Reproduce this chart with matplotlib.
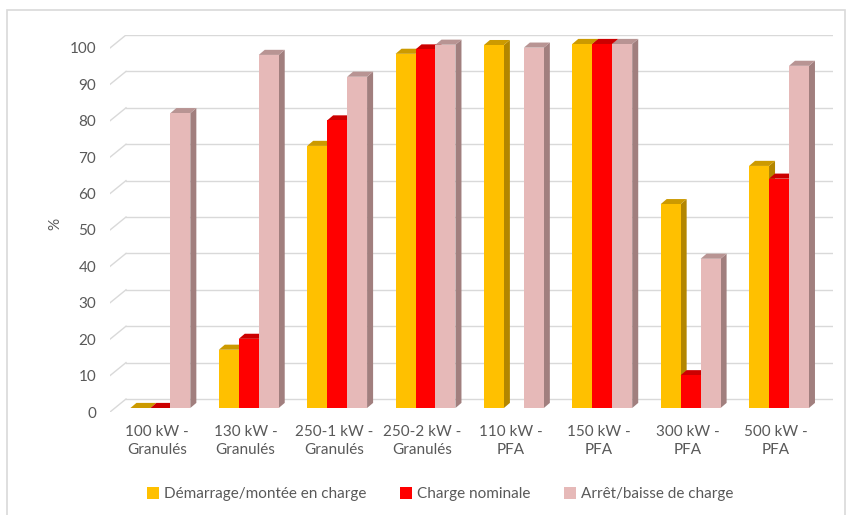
import matplotlib as mpl
mpl.use('Agg')
import matplotlib.pyplot as plt
from matplotlib.patches import Polygon, Rectangle, Patch
import numpy as np

plt.rcParams['font.family'] = ['Lato', 'DejaVu Sans']

categories = ['100 kW -\nGranulés', '130 kW -\nGranulés', '250-1 kW -\nGranulés',
              '250-2 kW -\nGranulés', '110 kW -\nPFA', '150 kW -\nPFA',
              '300 kW -\nPFA', '500 kW -\nPFA']
series_names = ['Démarrage/montée en charge', 'Charge nominale', 'Arrêt/baisse de charge']
demarrage = [0, 16, 72, 97.3, 99.7, 100, 56, 66.5]
nominale = [0, 19, 79, 98.5, np.nan, 100, 9, 63]
arret = [81, 97, 91, 99.8, 99, 100, 41, 94]
yticks = list(range(0, 101, 10))

front_colors = ['#FFC000', '#FF0000', '#E6B9B8']
side_colors = ['#B38600', '#B30000', '#A17F7E']
top_colors = ['#CC9A00', '#CC0000', '#B89493']

# 3d look: wall depth, bar offset and bar depth (data units)
wdx, wdy = 0.181, 3.57
box, boy = 0.07, 1.1
bdx, bdy = 0.068, 1.4
bw = 0.226

fig = plt.figure(figsize=(8.53, 5.15), dpi=100)
ax = fig.add_axes([110 / 853, 103 / 515, 723 / 853, 377 / 515])
ax.set_xlim(-0.5, 7.5 + wdx)
ax.set_ylim(0, 100 + wdy)
for s in ax.spines.values():
    s.set_visible(False)

grid_c = '#D9D9D9'
for v in yticks:
    ax.plot([-0.5, -0.5 + wdx], [v, v + wdy], color=grid_c, lw=1, zorder=1)
    ax.plot([-0.5 + wdx, 7.5 + wdx], [v + wdy, v + wdy], color=grid_c, lw=1, zorder=1)

data = [demarrage, nominale, arret]
z = 2
for i in range(len(categories)):
    for k, vals in enumerate(data):
        v = vals[i]
        if np.isnan(v):
            continue
        x0 = i + box + (k - 1.5) * bw
        x1 = x0 + bw
        y0 = boy
        y1 = boy + v
        side = Polygon([(x1, y0), (x1 + bdx, y0 + bdy), (x1 + bdx, y1 + bdy), (x1, y1)],
                       closed=True, fc=side_colors[k], ec='none', zorder=z)
        top = Polygon([(x0, y1), (x1, y1), (x1 + bdx, y1 + bdy), (x0 + bdx, y1 + bdy)],
                      closed=True, fc=top_colors[k], ec='none', zorder=z)
        ax.add_patch(side)
        ax.add_patch(top)
        ax.bar(x0, v, width=bw, bottom=y0, align='edge', color=front_colors[k],
               zorder=z + 0.5)
        z += 1

ax.set_yticks(yticks)
ax.set_yticklabels([str(t) for t in yticks])
ax.set_xticks([i + 0.035 for i in range(len(categories))])
ax.set_xticklabels(categories, linespacing=1.45)
ax.tick_params(axis='y', length=0, pad=10, labelsize=11, labelcolor='#595959')
ax.tick_params(axis='x', length=0, pad=9, labelsize=11, labelcolor='#595959')
ax.set_ylabel('%', fontsize=11, color='#595959', labelpad=5)

handles = [Patch(fc=c, ec='none') for c in front_colors]
fig.legend(handles, series_names, loc='center', bbox_to_anchor=(0.516, 1 - 494 / 515),
           ncol=3, frameon=False, fontsize=11, labelcolor='#595959',
           handlelength=0.8, handleheight=0.8, handletextpad=0.3, columnspacing=2.2)

fig.patches.append(Rectangle((7 / 853, -0.05), 838 / 853, 1.05 - 10 / 515,
                             transform=fig.transFigure, fill=False, ec='#D9D9D9', lw=1.2))

fig.savefig('out.png', dpi=100)
